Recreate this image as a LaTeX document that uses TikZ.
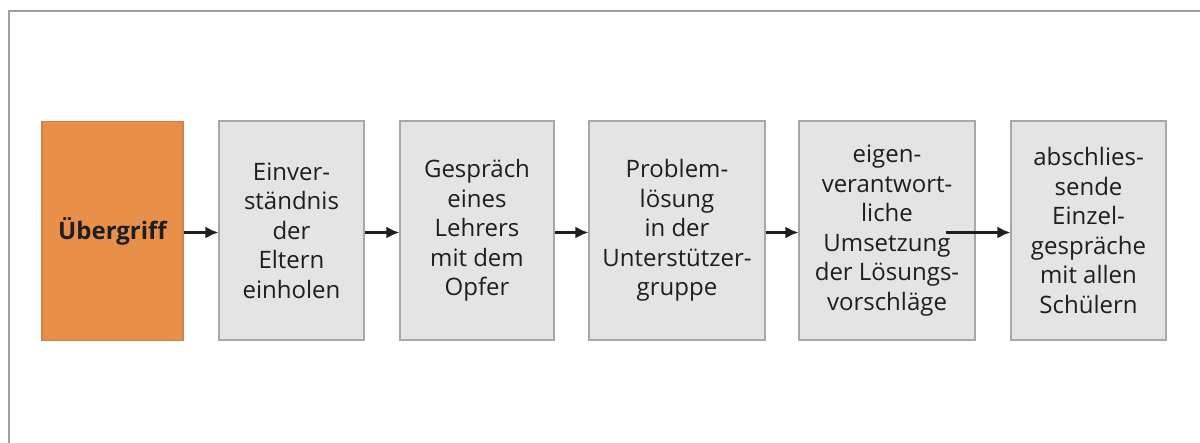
\documentclass[tikz,border=0pt]{standalone}
\usepackage{fontspec}
\setmainfont{Open Sans}
\usetikzlibrary{arrows.meta}
\definecolor{orangefill}{HTML}{E8904A}
\definecolor{grayfill}{HTML}{E4E4E4}
\definecolor{grayline}{HTML}{A8A8A8}
\definecolor{frameline}{HTML}{A0A0A0}
\definecolor{textcol}{HTML}{1E1E1E}
\begin{document}
\begin{tikzpicture}[x=1pt,y=-1pt,
  stepbox/.style={draw=grayline,line width=1.2pt,fill=grayfill,minimum height=219pt,inner sep=0pt,align=center,text=textcol,font={\fontsize{24}{29.5}\selectfont}},
  startbox/.style={stepbox,fill=orangefill,draw=orangefill!90!black},
  arr/.style={-{Latex[length=13pt,width=12pt]},line width=2.4pt,textcol}]
\useasboundingbox (0,0) rectangle (1200,443);
\draw[frameline,line width=2pt] (1200,11) -- (9,11) -- (9,443);
\node[startbox,minimum width=141pt,font={\fontsize{24}{29.5}\selectfont\bfseries}] (b1) at (112.5,231) {Übergriff};
\node[stepbox,minimum width=145pt] (b2) at (291.5,230.5) {Einver-\\ständnis\\der\\Eltern\\einholen};
\node[stepbox,minimum width=154pt] (b3) at (477,230.5) {Gespräch\\eines\\Lehrers\\mit dem\\Opfer};
\node[stepbox,minimum width=176pt] (b4) at (677,230.5) {Problem-\\lösung\\in der\\Unterstützer-\\gruppe};
\node[stepbox,minimum width=176pt] (b5) at (887,230.5) {eigen-\\verantwort-\\liche\\Umsetzung\\der Lösungs-\\vorschläge};
\node[stepbox,minimum width=155pt] (b6) at (1088.5,230.5) {abschlies-\\sende\\Einzel-\\gespräche\\mit allen\\Schülern};
\coordinate (ay) at (0,232.5);
\coordinate (a5) at (946,232.5);
\draw[arr] (b1.east |- ay) -- (b2.west |- ay);
\draw[arr] (b2.east |- ay) -- (b3.west |- ay);
\draw[arr] (b3.east |- ay) -- (b4.west |- ay);
\draw[arr] (b4.east |- ay) -- (b5.west |- ay);
\draw[arr] (a5) -- (b6.west |- a5);
\end{tikzpicture}
\end{document}
